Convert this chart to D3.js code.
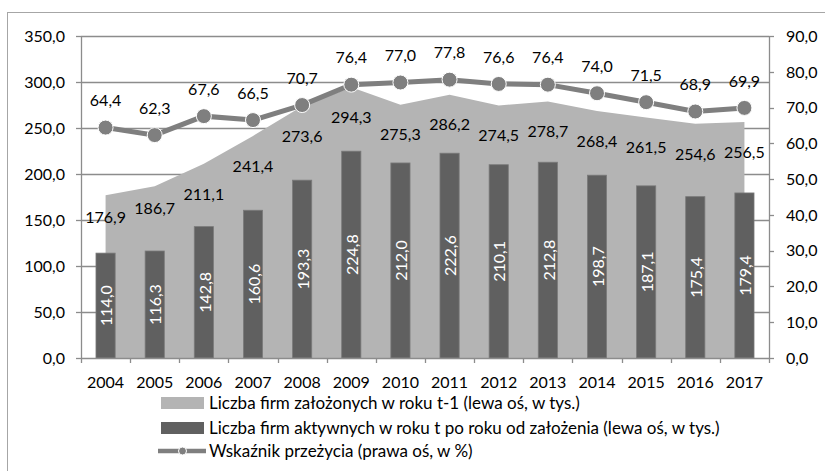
<!DOCTYPE html>
<html>
<head>
<meta charset="utf-8">
<script src="https://cdn.jsdelivr.net/npm/d3@7"></script>
<style>
  body { margin: 0; background: #fff; }
  text { font-family: Lato, "Open Sans", sans-serif; fill: #000; }
</style>
</head>
<body>
<div id="chart"></div>
<script>
var years = ["2004", "2005", "2006", "2007", "2008", "2009", "2010", "2011", "2012", "2013", "2014", "2015", "2016", "2017"];
var founded = [176.9, 186.7, 211.1, 241.4, 273.6, 294.3, 275.3, 286.2, 274.5, 278.7, 268.4, 261.5, 254.6, 256.5];
var active = [114.0, 116.3, 142.8, 160.6, 193.3, 224.8, 212.0, 222.6, 210.1, 212.8, 198.7, 187.1, 175.4, 179.4];
var survival = [64.4, 62.3, 67.6, 66.5, 70.7, 76.4, 77.0, 77.8, 76.6, 76.4, 74.0, 71.5, 68.9, 69.9];
var leftTicks = [0, 50, 100, 150, 200, 250, 300, 350];
var rightTicks = [0, 10, 20, 30, 40, 50, 60, 70, 80, 90];
var legendLabels = [
    "Liczba firm założonych w roku t-1 (lewa oś, w tys.)",
    "Liczba firm aktywnych w roku t po roku od założenia (lewa oś, w tys.)",
    "Wskaźnik przeżycia (prawa oś, w %)"
];

var width = 825, height = 471;
var margin = {top: 36, bottom: 113, left: 81, right: 56};

var cAreaFill = "#b4b4b4", cBar = "#606060", cLine = "#7f7f7f", cGrid = "#8c8c8c";
var numSize = "16px", legSize = "17px";

var pl = d3.formatLocale({decimal: ",", thousands: " ", grouping: [3], currency: ["", ""]});
var fmt = pl.format(".1f");

var svg = d3.select("#chart").append("svg")
    .attr("width", width)
    .attr("height", height);

// outer frame
svg.append("rect")
    .attr("x", 7.5).attr("y", 12.5)
    .attr("width", 840).attr("height", 480)
    .style("fill", "none").style("stroke", "#a6a6a6");

var x = d3.scaleBand().domain(years).range([margin.left, width - margin.right]);
var yL = d3.scaleLinear().domain([0, 350]).range([height - margin.bottom, margin.top]);
var yR = d3.scaleLinear().domain([0, 90]).range([height - margin.bottom, margin.top]);
var cx = function (d) { return x(d) + x.bandwidth() / 2; };

// gridlines
svg.append("g").selectAll("line").data(leftTicks.slice(1)).enter().append("line")
    .attr("x1", margin.left).attr("x2", width - margin.right)
    .attr("y1", function (d) { return Math.round(yL(d)) + 0.5; })
    .attr("y2", function (d) { return Math.round(yL(d)) + 0.5; })
    .style("stroke", cGrid).style("stroke-width", 1.3);

// area
var area = d3.area()
    .x(function (d, i) { return cx(years[i]); })
    .y0(yL(0))
    .y1(function (d) { return yL(d); });
svg.append("path").datum(founded)
    .attr("d", area)
    .style("fill", cAreaFill);

// bars
var bw = x.bandwidth() * 0.39;
svg.append("g").selectAll("rect").data(active).enter().append("rect")
    .attr("x", function (d, i) { return cx(years[i]) - bw / 2; })
    .attr("y", function (d) { return yL(d); })
    .attr("width", bw)
    .attr("height", function (d) { return yL(0) - yL(d); })
    .style("fill", cBar).style("stroke", "#7a7a7a").style("stroke-width", 0.8);

// bar labels
svg.append("g").selectAll("text").data(active).enter().append("text")
    .attr("transform", function (d, i) {
        return "translate(" + (cx(years[i]) + 1) + "," + (yL(d) + yL(0)) / 2 + ") rotate(-90)";
    })
    .attr("text-anchor", "middle").attr("dy", "0.36em")
    .style("font-size", numSize).style("fill", "#fff")
    .text(function (d) { return fmt(d); });

// area labels
svg.append("g").selectAll("text").data(founded).enter().append("text")
    .attr("x", function (d, i) { return cx(years[i]); })
    .attr("y", function (d, i) { return yL(d) + (i < 2 ? 22 : 30); })
    .attr("text-anchor", "middle").attr("dy", "0.36em")
    .style("font-size", numSize)
    .text(function (d) { return fmt(d); });

// axes lines
var axisG = svg.append("g").style("stroke", cGrid).style("stroke-width", 1.3);
axisG.append("line")
    .attr("x1", margin.left + 0.5).attr("x2", margin.left + 0.5)
    .attr("y1", yL(350)).attr("y2", yL(0));
axisG.append("line")
    .attr("x1", width - margin.right + 0.5).attr("x2", width - margin.right + 0.5)
    .attr("y1", yR(90)).attr("y2", yR(0));
axisG.append("line")
    .attr("x1", margin.left).attr("x2", width - margin.right)
    .attr("y1", Math.round(yL(0)) + 0.5).attr("y2", Math.round(yL(0)) + 0.5);
axisG.selectAll(".lt").data(leftTicks).enter().append("line")
    .attr("x1", margin.left - 5).attr("x2", margin.left)
    .attr("y1", function (d) { return Math.round(yL(d)) + 0.5; })
    .attr("y2", function (d) { return Math.round(yL(d)) + 0.5; });
axisG.selectAll(".rt").data(rightTicks).enter().append("line")
    .attr("x1", width - margin.right).attr("x2", width - margin.right + 5)
    .attr("y1", function (d) { return Math.round(yR(d)) + 0.5; })
    .attr("y2", function (d) { return Math.round(yR(d)) + 0.5; });
axisG.selectAll(".bt").data(years.concat(["end"])).enter().append("line")
    .attr("x1", function (d, i) { return Math.round(margin.left + i * x.step()) + 0.5; })
    .attr("x2", function (d, i) { return Math.round(margin.left + i * x.step()) + 0.5; })
    .attr("y1", yL(0)).attr("y2", yL(0) + 5);

// tick labels
svg.append("g").selectAll("text").data(leftTicks).enter().append("text")
    .attr("x", margin.left - 16).attr("y", function (d) { return yL(d); })
    .attr("text-anchor", "end").attr("dy", "0.36em")
    .style("font-size", numSize)
    .text(function (d) { return fmt(d); });
svg.append("g").selectAll("text").data(rightTicks).enter().append("text")
    .attr("x", width - margin.right + 17).attr("y", function (d) { return yR(d); })
    .attr("text-anchor", "start").attr("dy", "0.36em")
    .style("font-size", numSize)
    .text(function (d) { return fmt(d); });
svg.append("g").selectAll("text").data(years).enter().append("text")
    .attr("x", function (d) { return cx(d); }).attr("y", yL(0) + 24)
    .attr("text-anchor", "middle").attr("dy", "0.36em")
    .style("font-size", numSize)
    .text(function (d) { return d; });

// survival line
var line = d3.line()
    .x(function (d, i) { return cx(years[i]); })
    .y(function (d) { return yR(d); });
svg.append("path").datum(survival)
    .attr("d", line)
    .style("fill", "none").style("stroke", cLine).style("stroke-width", 5);
svg.append("g").selectAll("circle").data(survival).enter().append("circle")
    .attr("cx", function (d, i) { return cx(years[i]); })
    .attr("cy", function (d) { return yR(d); })
    .attr("r", 7.5)
    .style("fill", cLine).style("stroke", "#fff").style("stroke-width", 1);
svg.append("g").selectAll("text").data(survival).enter().append("text")
    .attr("x", function (d, i) { return cx(years[i]); })
    .attr("y", function (d) { return yR(d) - 27; })
    .attr("text-anchor", "middle").attr("dy", "0.36em")
    .style("font-size", numSize)
    .text(function (d) { return fmt(d); });

// legend
var lg = svg.append("g").attr("transform", "translate(158,0)");
var rowY = [403, 428, 451];
lg.append("rect").attr("x", 3).attr("y", rowY[0] - 6).attr("width", 43).attr("height", 12)
    .style("fill", cAreaFill);
lg.append("rect").attr("x", 3).attr("y", rowY[1] - 6).attr("width", 43).attr("height", 12)
    .style("fill", cBar);
lg.append("line").attr("x1", 0).attr("x2", 48).attr("y1", rowY[2]).attr("y2", rowY[2])
    .style("stroke", cLine).style("stroke-width", 4.5);
lg.append("circle").attr("cx", 24.5).attr("cy", rowY[2]).attr("r", 4)
    .style("fill", cLine).style("stroke", "#fff").style("stroke-width", 1);
lg.selectAll("text").data(legendLabels).enter().append("text")
    .attr("x", 51).attr("y", function (d, i) { return rowY[i]; })
    .attr("dy", "0.36em")
    .style("font-size", legSize)
    .text(function (d) { return d; });
</script>
</body>
</html>
